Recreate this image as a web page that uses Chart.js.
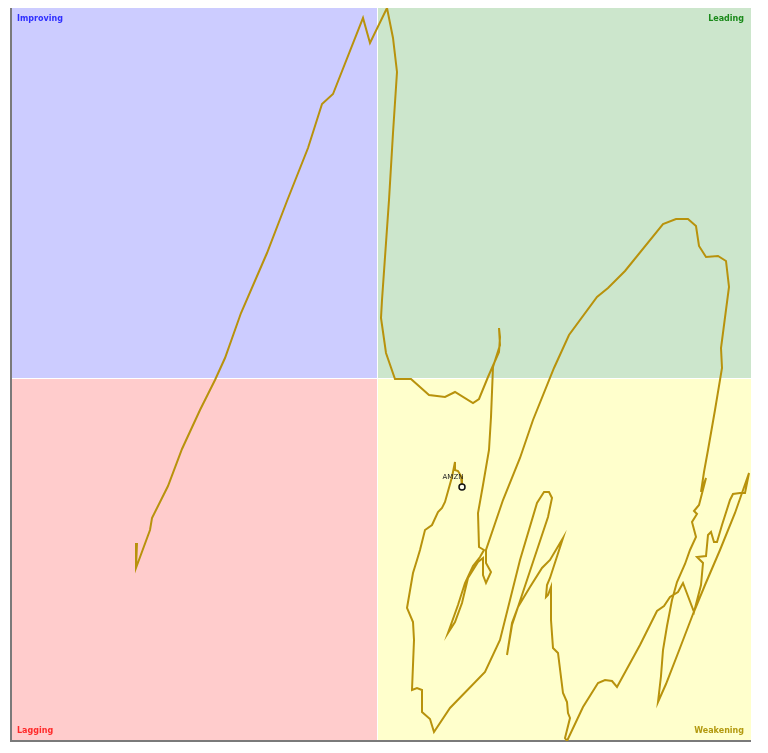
<!DOCTYPE html>
<html lang="en">
<head>
    <meta charset="UTF-8">
    <title>AMZN Relative Rotation Graph</title>
    <script src="https://cdn.jsdelivr.net/npm/chart.js"></script>
    <style>
        body {
            margin: 0;
            background-color: #ffffff;
        }
        canvas {
            display: block;
        }
    </style>
</head>
<body>
    <canvas id="rrgChart" width="768" height="753"></canvas>

    <script>
        // Trail of AMZN, oldest point first, last point is the current one
        const symbol = 'AMZN';
        const rsRatio = [
            95.20, 95.18, 95.46, 95.50, 95.82, 96.10, 96.46, 96.76, 96.96, 97.28,
            97.80, 98.20, 98.62, 98.90, 99.12, 99.72, 99.86, 100.20, 100.32, 100.40,
            100.32, 100.24, 100.10, 100.08, 100.18, 100.36, 100.68, 100.86, 101.04, 101.36,
            101.56, 101.92, 102.04, 102.22, 102.44, 102.46, 102.44, 102.46, 102.32, 102.28,
            102.24, 102.12, 102.02, 102.04, 102.14, 102.06, 101.92, 101.76, 101.62, 101.42,
            101.56, 101.70, 101.82, 102.02, 102.12, 102.12, 102.18, 102.28, 102.18, 102.18,
            102.52, 102.86, 103.12, 103.54, 103.84, 104.40, 104.62, 104.96, 105.72, 105.98,
            106.22, 106.38, 106.44, 106.58, 106.82, 106.98, 107.04, 106.88, 106.90, 106.76,
            106.62, 106.54, 106.48, 106.58, 106.44, 106.34, 106.40, 106.30, 106.38, 106.26,
            106.16, 106.00, 105.90, 105.80, 105.72, 105.68, 105.62, 105.78, 106.06, 106.32,
            106.56, 106.86, 107.16, 107.44, 107.36, 107.26, 107.12, 107.06, 106.90, 106.80,
            106.74, 106.68, 106.62, 106.58, 106.40, 106.52, 106.48, 106.34, 106.12, 106.02,
            105.86, 105.74, 105.60, 105.26, 104.80, 104.70, 104.56, 104.42, 104.12, 103.80,
            103.76, 103.86, 103.82, 103.80, 103.72, 103.62, 103.52, 103.48, 103.48, 103.42,
            103.38, 103.40, 103.46, 103.72, 103.46, 103.30, 103.06, 102.82, 102.70, 102.60,
            102.70, 102.90, 103.12, 103.42, 103.50, 103.44, 103.34, 103.20, 102.86, 102.46,
            102.16, 101.46, 101.14, 101.06, 100.90, 100.90, 100.80, 100.70, 100.74, 100.72,
            100.60, 100.72, 100.80, 100.86, 100.96, 101.10, 101.22, 101.30, 101.36, 101.50,
            101.56, 101.56, 101.62, 101.68, 101.70
        ];
        const rsMomentum = [
            96.70, 96.20, 96.96, 97.20, 97.84, 98.58, 99.36, 99.96, 100.40, 101.30,
            102.50, 103.54, 104.60, 105.48, 105.68, 107.20, 106.70, 107.40, 106.80, 106.12,
            104.90, 103.56, 101.56, 101.20, 100.50, 99.98, 99.98, 99.82, 99.66, 99.62,
            99.72, 99.50, 99.58, 100.02, 100.52, 100.82, 101.00, 100.66, 100.22, 99.22,
            98.56, 97.86, 97.30, 96.62, 96.56, 96.42, 96.24, 95.90, 95.46, 94.90,
            95.12, 95.50, 96.00, 96.32, 96.40, 96.06, 95.90, 96.12, 96.30, 96.56,
            97.56, 98.40, 99.16, 100.20, 100.86, 101.62, 101.80, 102.14, 103.08, 103.18,
            103.18, 103.04, 102.64, 102.42, 102.44, 102.34, 101.82, 100.60, 100.20, 99.36,
            98.56, 98.12, 97.72, 98.00, 97.46, 97.34, 97.28, 97.12, 96.82, 96.56,
            96.28, 95.92, 95.56, 95.04, 94.56, 94.04, 93.52, 93.88, 94.60, 95.28,
            95.86, 96.56, 97.30, 98.10, 97.70, 97.70, 97.68, 97.56, 97.06, 96.72,
            96.72, 96.92, 96.86, 96.44, 96.42, 96.30, 95.86, 95.32, 95.90, 95.72,
            95.62, 95.44, 95.34, 94.66, 93.82, 93.94, 93.96, 93.90, 93.42, 92.74,
            92.80, 93.20, 93.30, 93.52, 93.70, 94.50, 94.60, 95.16, 95.82, 95.66,
            95.62, 95.86, 96.00, 96.80, 96.36, 96.20, 95.82, 95.42, 95.10, 94.46,
            95.06, 95.66, 96.32, 97.22, 97.60, 97.72, 97.72, 97.50, 96.36, 94.76,
            94.12, 93.40, 92.92, 93.18, 93.32, 93.76, 93.80, 93.76, 94.76, 95.12,
            95.40, 96.10, 96.36, 96.56, 96.96, 97.06, 97.32, 97.40, 97.52, 98.02,
            98.32, 98.16, 98.14, 98.04, 97.82
        ];

        // Quadrants: name, label colour, fill colour
        const quadrants = [
            { name: 'Improving', color: '#2f2fff', fill: '#ccccff' },
            { name: 'Leading',   color: '#1a8a1a', fill: '#cce6cc' },
            { name: 'Lagging',   color: '#ff2a2a', fill: '#ffcccc' },
            { name: 'Weakening', color: '#b39a10', fill: '#ffffcc' }
        ];

        const trail = rsRatio.map(function(x, i) {
            return { x: x, y: rsMomentum[i] };
        });
        const lastIndex = trail.length - 1;

        // Draws the four coloured quadrants behind the trail
        const quadrantPlugin = {
            id: 'quadrants',
            beforeDatasetsDraw: function(chart) {
                const ctx = chart.ctx;
                const area = chart.chartArea;
                const cx = Math.round(chart.scales.x.getPixelForValue(100));
                const cy = Math.round(chart.scales.y.getPixelForValue(100));
                ctx.save();
                ctx.fillStyle = quadrants[0].fill;
                ctx.fillRect(area.left, area.top, cx - area.left, cy - area.top);
                ctx.fillStyle = quadrants[1].fill;
                ctx.fillRect(cx + 1, area.top, area.right - cx - 1, cy - area.top);
                ctx.fillStyle = quadrants[2].fill;
                ctx.fillRect(area.left, cy + 1, cx - area.left, area.bottom - cy - 1);
                ctx.fillStyle = quadrants[3].fill;
                ctx.fillRect(cx + 1, cy + 1, area.right - cx - 1, area.bottom - cy - 1);

                ctx.font = 'bold 8px "DejaVu Sans"';
                ctx.textBaseline = 'middle';
                ctx.textAlign = 'left';
                ctx.fillStyle = quadrants[0].color;
                ctx.fillText(quadrants[0].name, area.left + 6, area.top + 11);
                ctx.fillStyle = quadrants[2].color;
                ctx.fillText(quadrants[2].name, area.left + 6, area.bottom - 10);
                ctx.textAlign = 'right';
                ctx.fillStyle = quadrants[1].color;
                ctx.fillText(quadrants[1].name, area.right - 7, area.top + 11);
                ctx.fillStyle = quadrants[3].color;
                ctx.fillText(quadrants[3].name, area.right - 7, area.bottom - 10);

                // left and bottom frame
                ctx.strokeStyle = '#7a7a7a';
                ctx.lineWidth = 2;
                ctx.beginPath();
                ctx.moveTo(area.left, area.top);
                ctx.lineTo(area.left, area.bottom);
                ctx.lineTo(area.right, area.bottom);
                ctx.stroke();
                ctx.restore();
            },
            afterDatasetsDraw: function(chart) {
                const ctx = chart.ctx;
                const pt = chart.getDatasetMeta(0).data[lastIndex];
                ctx.save();
                ctx.font = '7px "DejaVu Sans"';
                ctx.fillStyle = '#222222';
                ctx.textAlign = 'center';
                ctx.textBaseline = 'bottom';
                ctx.fillText(symbol, pt.x - 9, pt.y - 6);
                ctx.restore();
            }
        };

        const ctx = document.getElementById('rrgChart').getContext('2d');
        new Chart(ctx, {
            type: 'scatter',
            data: {
                datasets: [{
                    label: symbol,
                    data: trail,
                    showLine: true,
                    borderColor: 'rgb(184, 146, 12)',
                    borderWidth: 2,
                    tension: 0,
                    pointRadius: trail.map(function(p, i) { return i === lastIndex ? 3 : 0; }),
                    pointBorderColor: '#111111',
                    pointBackgroundColor: '#ffffee',
                    pointBorderWidth: 1.5
                }]
            },
            options: {
                responsive: false,
                animation: false,
                layout: {
                    padding: { left: 11, top: 8, right: 17, bottom: 12 }
                },
                scales: {
                    x: { type: 'linear', min: 92.68, max: 107.48, display: false },
                    y: { type: 'linear', min: 92.74, max: 107.40, display: false }
                },
                plugins: {
                    legend: { display: false },
                    tooltip: { enabled: false }
                }
            },
            plugins: [quadrantPlugin]
        });
    </script>
</body>
</html>
